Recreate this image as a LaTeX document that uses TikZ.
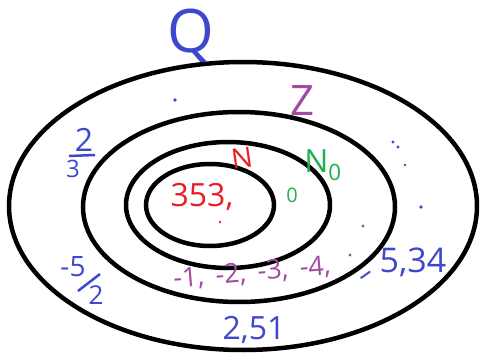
\documentclass[tikz,border=0pt]{standalone}
\usepackage{fontspec}
\setmainfont{Open Sans}
\definecolor{pblue}{HTML}{3F48CC}
\definecolor{ppurple}{HTML}{A349A4}
\definecolor{pred}{HTML}{ED1C24}
\definecolor{pgreen}{HTML}{22B14C}
\begin{document}
\begin{tikzpicture}[x=1pt,y=-1pt,
  ring/.style={draw=black,line width=4.5pt},
  lbl/.style={inner sep=0pt},
  fs/.style={font=\fontsize{#1}{#1}\selectfont},
  dotb/.style={fill=pblue,draw=none},
  dotp/.style={fill=ppurple,draw=none},
  dotr/.style={fill=pred,draw=none}]
\useasboundingbox[fill=white] (0,0) rectangle (480,353);
% rings
\draw[ring] (243,206) ellipse [x radius=234pt, y radius=144pt];
\draw[ring] (239,207) ellipse [x radius=156pt, y radius=95pt];
\draw[ring] (228,205) ellipse [x radius=102pt, y radius=63pt];
\draw[ring] (210,205) ellipse [x radius=64pt, y radius=41pt];
% set names
\node[lbl,text=pblue,fs=60] (Q) at (191,36) {Q};
\node[lbl,text=ppurple,fs=42] (Z) at (302,101) {Z};
\node[lbl,text=pred,fs=28,rotate=8] (N) at (242,158) {N};
\node[lbl,text=pgreen,fs=32] (N0) at (323,165) {N\textsubscript{0}};
% elements
\node[lbl,text=pred,fs=32] (nat) at (202,197) {353,};
\fill[dotr] (220,222) circle (1.3pt);
\node[lbl,text=pgreen,fs=20] (zero) at (292,195) {0};
\node[lbl,text=ppurple,fs=27,rotate=5] (negs) at (252,273) {-1,\, -2,\, -3,\, -4,};
\fill[dotp] (363,226) circle (1.6pt);
\fill[dotp] (350,255) circle (1.6pt);
\node[lbl,text=pblue,fs=28,rotate=35] (r1a) at (368,278) {–};
\node[lbl,text=pblue,fs=34] (r1b) at (413,262) {5,34};
% -5/2
\node[lbl,text=pblue,fs=28] (r2a) at (73,267) {-5};
\draw[pblue,line width=2.5pt] (78,291) -- (100,274);
\node[lbl,text=pblue,fs=26] (r2b) at (96,295) {2};
\node[lbl,text=pblue,fs=32] (r3) at (254,330) {2,51};
% 2/3
\node[lbl,text=pblue,fs=32] (num) at (84,140) {2};
\node[lbl,text=pblue,fs=24] (den) at (73,169) {3};
\draw[pblue,line width=2.5pt] (69,156) -- (95,155);
\fill[dotb] (175,100) circle (1.8pt);
\fill[dotb] (393,142) circle (1.6pt);
\fill[dotb] (398,147) circle (1.6pt);
\fill[dotb] (405,165) circle (1.3pt);
\fill[dotb] (421,207) circle (1.8pt);
\end{tikzpicture}
\end{document}
